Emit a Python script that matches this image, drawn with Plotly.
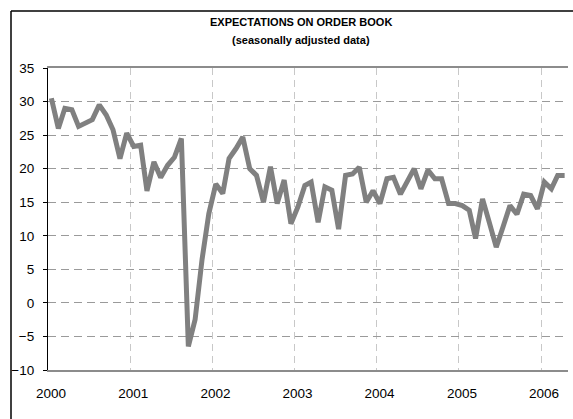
import pandas as pd
import plotly.graph_objects as go

# ---- data (monthly, Jan 2000 .. Apr 2006) ----
start_month = "2000-01-01"
values = [
    30.5, 26.0, 29.0, 28.8, 26.3, 26.8, 27.3, 29.5, 28.0, 25.8, 21.5, 25.3,   # 2000
    23.3, 23.5, 16.7, 21.0, 18.7, 20.5, 21.7, 24.5, -6.5, -2.5, 6.5, 13.3,    # 2001
    17.7, 16.3, 21.5, 23.0, 24.7, 20.0, 19.0, 15.0, 20.3, 14.8, 18.3, 11.8,   # 2002
    14.3, 17.5, 18.0, 12.0, 17.3, 16.8, 11.0, 19.0, 19.2, 20.2, 15.0, 16.7,   # 2003
    14.8, 18.5, 18.7, 16.2, 18.2, 20.0, 17.0, 19.8, 18.5, 18.5, 14.8, 14.8,   # 2004
    14.5, 13.8, 9.6, 15.5, 12.0, 8.3, 11.3, 14.5, 13.2, 16.2, 16.0, 14.0,     # 2005
    18.0, 17.0, 19.0, 19.0,                                                   # 2006
]
year_ticks = ["2000", "2001", "2002", "2003", "2004", "2005", "2006"]
y_ticks = [-10, -5, 0, 5, 10, 15, 20, 25, 30, 35]
title_1 = "EXPECTATIONS ON ORDER BOOK"
title_2 = "(seasonally adjusted data)"

dates = pd.date_range(start_month, periods=len(values), freq="MS") + pd.Timedelta(days=15)
tick_dates = [f"{y}-01-01" for y in year_ticks]

W, H = 573, 419
L, R, T, B = 48, 5, 68, 49
pw, ph = W - L - R, H - T - B

def px_x(p):
    return (p - L) / pw

def px_y(p):
    return (H - B - p) / ph

font = "Liberation Sans, Arial, sans-serif"

fig = go.Figure()
fig.add_trace(go.Scatter(
    x=dates, y=values, mode="lines",
    line=dict(color="#808080", width=5),
    hoverinfo="skip", showlegend=False,
))

fig.update_layout(
    width=W, height=H,
    margin=dict(l=L, r=R, t=T, b=B, pad=0),
    paper_bgcolor="white", plot_bgcolor="white",
    font=dict(family=font, size=12, color="black"),
    xaxis=dict(
        type="date",
        range=["2000-01-01", "2006-05-01"],
        tickvals=tick_dates, ticktext=year_ticks,
        showgrid=True, gridcolor="#c8c8c8", griddash="7px,5px", gridwidth=1.2,
        showline=True, linecolor="#8c8c8c", linewidth=2, mirror=True,
        ticks="", zeroline=False,
        ticklabelstandoff=10, ticklabelshift=3,
        tickfont=dict(size=13.5, family=font, color="black"),
    ),
    yaxis=dict(
        range=[-10, 35], tickvals=y_ticks,
        showgrid=True, gridcolor="#9a9a9a", griddash="8px,5px", gridwidth=1,
        showline=True, linecolor="black", linewidth=1.2,
        ticks="outside", ticklen=4, tickcolor="black", tickwidth=1,
        zeroline=False, ticklabelstandoff=6,
        tickfont=dict(size=13.5, family=font, color="black"),
    ),
    annotations=[
        dict(text=f"<b>{title_1}</b>", xref="paper", yref="paper",
             x=px_x(301), y=px_y(22), xanchor="center", yanchor="middle",
             showarrow=False, font=dict(size=11, family=font, color="black")),
        dict(text=f"<b>{title_2}</b>", xref="paper", yref="paper",
             x=px_x(301), y=px_y(40), xanchor="center", yanchor="middle",
             showarrow=False, font=dict(size=11, family=font, color="black")),
    ],
    shapes=[
        dict(type="line", xref="paper", yref="paper",
             x0=px_x(11), x1=px_x(11), y0=px_y(11), y1=px_y(H + 10),
             line=dict(color="black", width=1.5)),
        dict(type="line", xref="paper", yref="paper",
             x0=px_x(11), x1=px_x(W + 10), y0=px_y(11), y1=px_y(11),
             line=dict(color="black", width=1.5)),
    ],
)

fig.write_html("out.html", config={"displayModeBar": False},
               post_script="document.body.style.margin='0px';")
